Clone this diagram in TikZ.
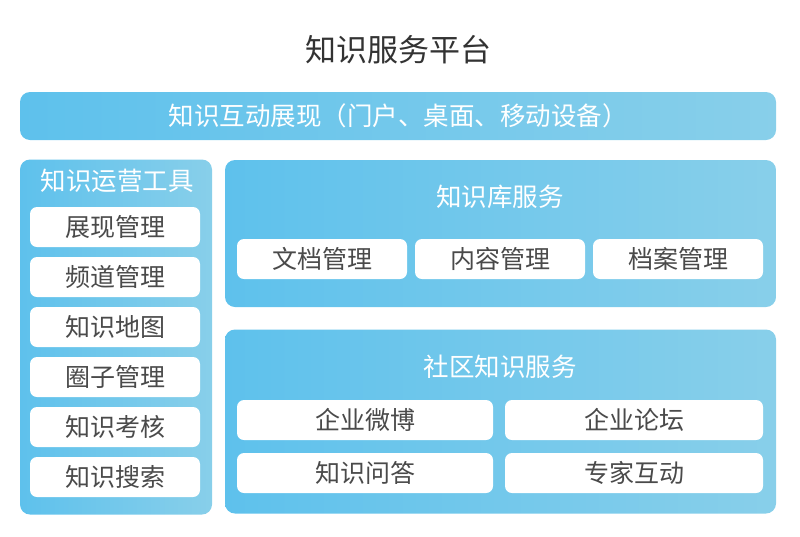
\documentclass[tikz,border=0pt]{standalone}
\usepackage{fontspec}
\setmainfont{Noto Sans CJK SC}
\definecolor{panelL}{HTML}{5EC1EC}
\definecolor{panelR}{HTML}{88CFEA}
\definecolor{txtgray}{HTML}{4A4A4A}
\begin{document}
\begin{tikzpicture}[x=1pt,y=-1pt,
 panel/.style = {rounded corners=10pt, left color=panelL, right color=panelR, draw=none, inner sep=0pt},
 item/.style = {rounded corners=7pt, fill=white, minimum height=40pt, minimum width=170pt, text=txtgray, font=\fontsize{25}{25}\selectfont, inner sep=0pt},
 head/.style = {text=white, font=\fontsize{25.5}{25.5}\selectfont},
 node distance={50pt}]
\useasboundingbox (0,0) rectangle (800,536);
\node[text=black!80, font=\fontsize{31}{31}\selectfont] (title) at (398,50) {知识服务平台};
\node[panel, head, minimum width=756pt, minimum height=48pt] (bar) at (398,116) {知识互动展现（门户、桌面、移动设备）};
% left column
\node[panel, minimum width=192pt, minimum height=355pt] (ops) at (116,337) {};
\node[head] (opsT) at (117,181) {知识运营工具};
\node[item] (o1) at (115,227) {展现管理};
\node[item] (o2) [below of=o1] {频道管理};
\node[item] (o3) [below of=o2] {知识地图};
\node[item] (o4) [below of=o3] {圈子管理};
\node[item] (o5) [below of=o4] {知识考核};
\node[item] (o6) [below of=o5] {知识搜索};
% knowledge base
\node[panel, minimum width=551pt, minimum height=147pt] (kb) at (500.5,233.5) {};
\node[head] (kbT) at (500,197) {知识库服务};
\node[item] (k2) at (500,259) {内容管理};
\node[item] (k1) [left of=k2, node distance=178pt] {文档管理};
\node[item] (k3) [right of=k2, node distance=178pt] {档案管理};
% community
\node[panel, minimum width=551pt, minimum height=184pt] (cm) at (500.5,421.5) {};
\node[head] (cmT) at (500,367) {社区知识服务};
\node[item, minimum width=256pt] (c1) at (365,420) {企业微博};
\node[item, minimum width=258pt] (c2) at (634,420) {企业论坛};
\node[item, minimum width=256pt] (c3) [below of=c1, node distance=53pt] {知识问答};
\node[item, minimum width=258pt] (c4) [below of=c2, node distance=53pt] {专家互动};
\end{tikzpicture}
\end{document}
